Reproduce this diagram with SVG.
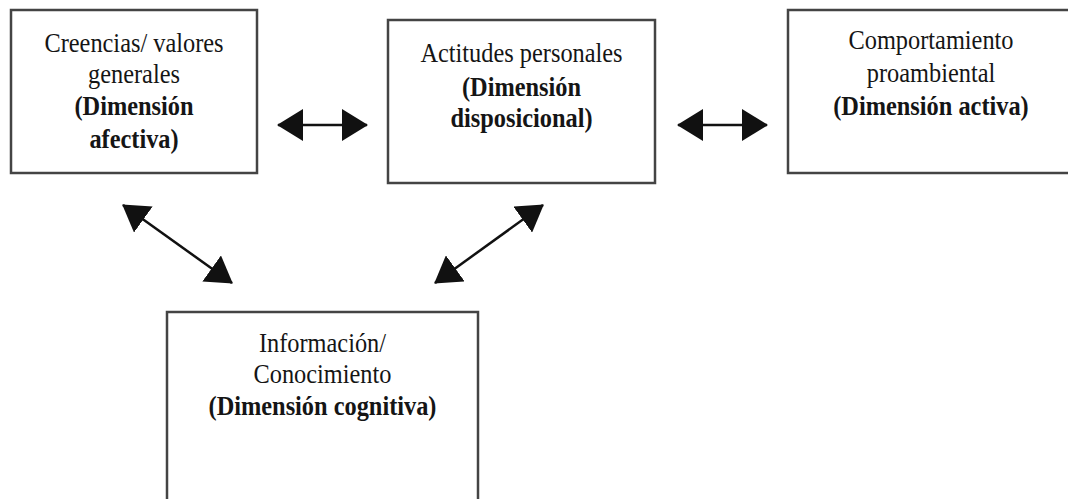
<svg xmlns="http://www.w3.org/2000/svg" width="1068" height="499" viewBox="0 0 1068 499">
<style>
.box{fill:#fff;stroke:#444;stroke-width:2.5}
.t{font-family:"Liberation Serif","Times New Roman",serif;font-size:28px;fill:#151515;text-anchor:middle}
.b{font-weight:bold}
.c{stroke:#111;stroke-width:2.5;fill:none}
</style>
<defs>
<marker id="ah" markerUnits="userSpaceOnUse" viewBox="0 0 26 32" markerWidth="26" markerHeight="32" refX="25" refY="16" orient="auto-start-reverse">
<path d="M0,0 L26,16 L0,32 z" fill="#111"/>
</marker>
</defs>
<rect width="1068" height="499" fill="#fff"/>
<g id="n1">
<rect class="box" x="11" y="10" width="246" height="163"/>
<text class="t" transform="translate(134,52) scale(0.87,1)">Creencias/ valores</text>
<text class="t" transform="translate(134,83) scale(0.87,1)">generales</text>
<text class="t b" transform="translate(134,115) scale(0.87,1)">(Dimensión</text>
<text class="t b" transform="translate(134,148) scale(0.87,1)">afectiva)</text>
</g>
<g id="n2">
<rect class="box" x="388" y="20" width="267" height="163"/>
<text class="t" transform="translate(521.5,62) scale(0.87,1)">Actitudes personales</text>
<text class="t b" transform="translate(521.5,96) scale(0.87,1)">(Dimensión</text>
<text class="t b" transform="translate(521.5,127) scale(0.87,1)">disposicional)</text>
</g>
<g id="n3">
<rect class="box" x="788" y="10" width="290" height="163"/>
<text class="t" transform="translate(931,49) scale(0.87,1)">Comportamiento</text>
<text class="t" transform="translate(931,82) scale(0.87,1)">proambiental</text>
<text class="t b" transform="translate(931,115) scale(0.87,1)">(Dimensión activa)</text>
</g>
<g id="n4">
<rect class="box" x="167" y="312" width="311" height="200"/>
<text class="t" transform="translate(322.5,352) scale(0.87,1)">Información/</text>
<text class="t" transform="translate(322.5,383) scale(0.87,1)">Conocimiento</text>
<text class="t b" transform="translate(322.5,415) scale(0.87,1)">(Dimensión cognitiva)</text>
</g>
<g id="connectors">
<line class="c" x1="278" y1="125" x2="367" y2="125" marker-start="url(#ah)" marker-end="url(#ah)"/>
<line class="c" x1="678" y1="125" x2="767" y2="125" marker-start="url(#ah)" marker-end="url(#ah)"/>
<line class="c" x1="123" y1="205" x2="232" y2="283" marker-start="url(#ah)" marker-end="url(#ah)"/>
<line class="c" x1="543" y1="205" x2="435" y2="283" marker-start="url(#ah)" marker-end="url(#ah)"/>
</g>
</svg>
